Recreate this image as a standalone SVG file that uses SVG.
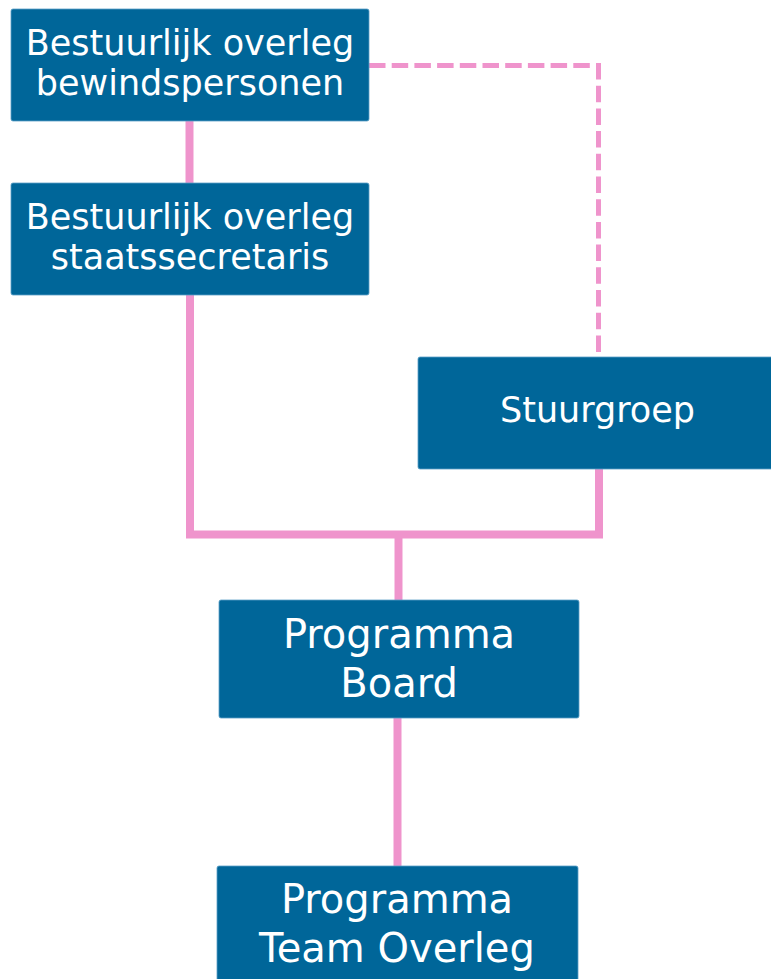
<svg xmlns="http://www.w3.org/2000/svg" width="771" height="979" viewBox="0 0 771 979">
<style>
.box{fill:#006699;stroke:#5b9fc7;stroke-width:0.8}
.t{fill:#ffffff;font-family:"DejaVu Sans",Verdana,sans-serif;text-anchor:middle}
.s35{font-size:35px}
.s40{font-size:40px}
.c{fill:none;stroke:#EF94CC;stroke-width:8}
.d{fill:none;stroke:#EF94CC;stroke-width:5;stroke-dasharray:16.5 6.2}
</style>
<rect width="771" height="979" fill="#ffffff"/>
<g id="connectors">
<line class="c" x1="189.5" y1="121" x2="189.5" y2="183"/>
<polyline class="c" points="190,295 190,534.5 599,534.5 599,469"/>
<line class="c" x1="398.5" y1="534.5" x2="398.5" y2="600"/>
<line class="c" x1="397.5" y1="718" x2="397.5" y2="866"/>
<polyline class="d" points="369,65.5 598.5,65.5 598.5,357"/>
</g>
<g id="bestuurlijk-overleg-bewindspersonen">
<rect class="box" x="11" y="9" width="358" height="112" rx="2"/>
<text class="t s35" x="190" y="55">Bestuurlijk overleg</text>
<text class="t s35" x="190" y="95">bewindspersonen</text>
</g>
<g id="bestuurlijk-overleg-staatssecretaris">
<rect class="box" x="11" y="183" width="358" height="112" rx="2"/>
<text class="t s35" x="190" y="229">Bestuurlijk overleg</text>
<text class="t s35" x="190" y="269">staatssecretaris</text>
</g>
<g id="stuurgroep">
<rect class="box" x="418" y="357" width="360" height="112" rx="2"/>
<text class="t s35" x="597.5" y="422">Stuurgroep</text>
</g>
<g id="programma-board">
<rect class="box" x="219" y="600" width="360" height="118" rx="2"/>
<text class="t s40" x="399" y="648">Programma</text>
<text class="t s40" x="399" y="697">Board</text>
</g>
<g id="programma-team-overleg">
<rect class="box" x="217" y="866" width="361" height="125" rx="2"/>
<text class="t s40" x="397" y="913">Programma</text>
<text class="t s40" x="397" y="962">Team Overleg</text>
</g>
</svg>
